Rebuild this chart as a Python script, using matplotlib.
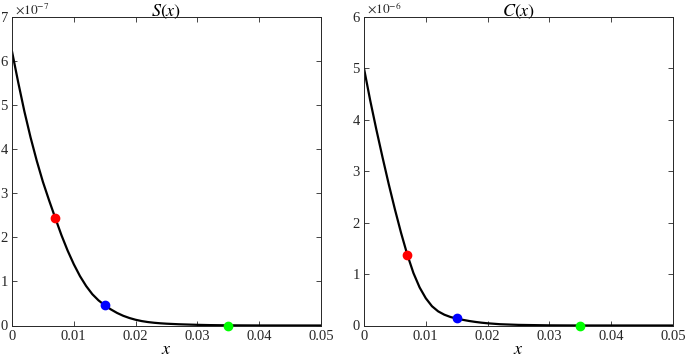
import matplotlib
matplotlib.use("Agg")
import matplotlib.pyplot as plt
import numpy as np

plt.rcParams['font.family'] = 'serif'
plt.rcParams['font.serif'] = ['Liberation Serif', 'DejaVu Serif']
plt.rcParams['mathtext.fontset'] = 'stix'

# S(x) curve readings: x in units of 1e-3, y in units of 1e-7
s_x = [0, 1, 2, 3, 4, 5, 6, 7, 8, 9, 10, 11, 12, 13, 14, 15, 16, 17, 18, 19, 20,
       21, 22, 23, 24, 25, 27, 30, 32, 35, 40, 50]
s_y = [6.22, 5.52, 4.86, 4.27, 3.74, 3.26, 2.84, 2.44, 2.05, 1.70, 1.39, 1.12, 0.895,
       0.71, 0.57, 0.46, 0.365, 0.285, 0.22, 0.17, 0.13, 0.10, 0.078, 0.062, 0.05,
       0.041, 0.028, 0.015, 0.009, 0.004, 0.001, 0.0]
s_pts_x = [7, 15, 35]
s_pts_y = [2.45, 0.47, 0.0]

# C(x) curve readings: x in units of 1e-3, y in units of 1e-6
c_x = [0, 1, 2, 3, 4, 5, 6, 7, 8, 9, 10, 11, 12, 13, 14, 15, 16, 17, 18, 19, 20,
       22, 25, 30, 35, 50]
c_y = [5.0, 4.38, 3.81, 3.27, 2.75, 2.26, 1.80, 1.38, 1.02, 0.74, 0.53, 0.375, 0.275,
       0.21, 0.165, 0.135, 0.11, 0.088, 0.07, 0.055, 0.043, 0.025, 0.012, 0.003,
       0.0005, 0.0]
c_pts_x = [7, 15, 35]
c_pts_y = [1.37, 0.137, 0.0]

pt_colors = ['#ff0000', '#0000ff', '#00ff00']
x_ticks = [0, 0.01, 0.02, 0.03, 0.04, 0.05]
x_ticklabels = ['0', '0.01', '0.02', '0.03', '0.04', '0.05']

W, H = 685, 360
fig = plt.figure(figsize=(W / 100, H / 100), dpi=100)

axcol = '#262626'

def make_panel(rect, cx, cy, px, py, ymax, exp, title):
    ax = fig.add_axes(rect)
    ax.plot(np.array(cx) * 1e-3, cy, color='black', lw=1.6,
            solid_joinstyle='round', solid_capstyle='round')
    for xx, yy, col in zip(px, py, pt_colors):
        ax.plot(xx * 1e-3, yy, 'o', color=col, ms=6, mec=col, zorder=5, clip_on=False)
    ax.set_xlim(0, 0.05)
    ax.set_ylim(0, ymax)
    ax.set_xticks(x_ticks)
    ax.set_xticklabels(x_ticklabels)
    ax.set_yticks(range(0, ymax + 1))
    ax.tick_params(direction='in', top=True, right=True, length=3.5, width=0.6,
                   labelsize=10.5, colors=axcol, pad=3)
    for sp in ax.spines.values():
        sp.set_color(axcol)
        sp.set_linewidth(0.7)
    ax.set_title(title, fontsize=13, pad=1, color='black')
    ax.set_xlabel(r'$x$', fontsize=13, labelpad=-1)
    ax.text(0.01, 1.002, r'$\times 10^{%d}$' % exp, transform=ax.transAxes,
            fontsize=9.5, ha='left', va='bottom', color=axcol)
    return ax

bottom = (H - 325.5) / H
height = 308.5 / H
make_panel([12 / W, bottom, 309 / W, height], s_x, s_y, s_pts_x, s_pts_y, 7, -7, r'$S(x)$')
make_panel([364 / W, bottom, 309 / W, height], c_x, c_y, c_pts_x, c_pts_y, 6, -6, r'$C(x)$')

fig.savefig('out.png', dpi=100)
